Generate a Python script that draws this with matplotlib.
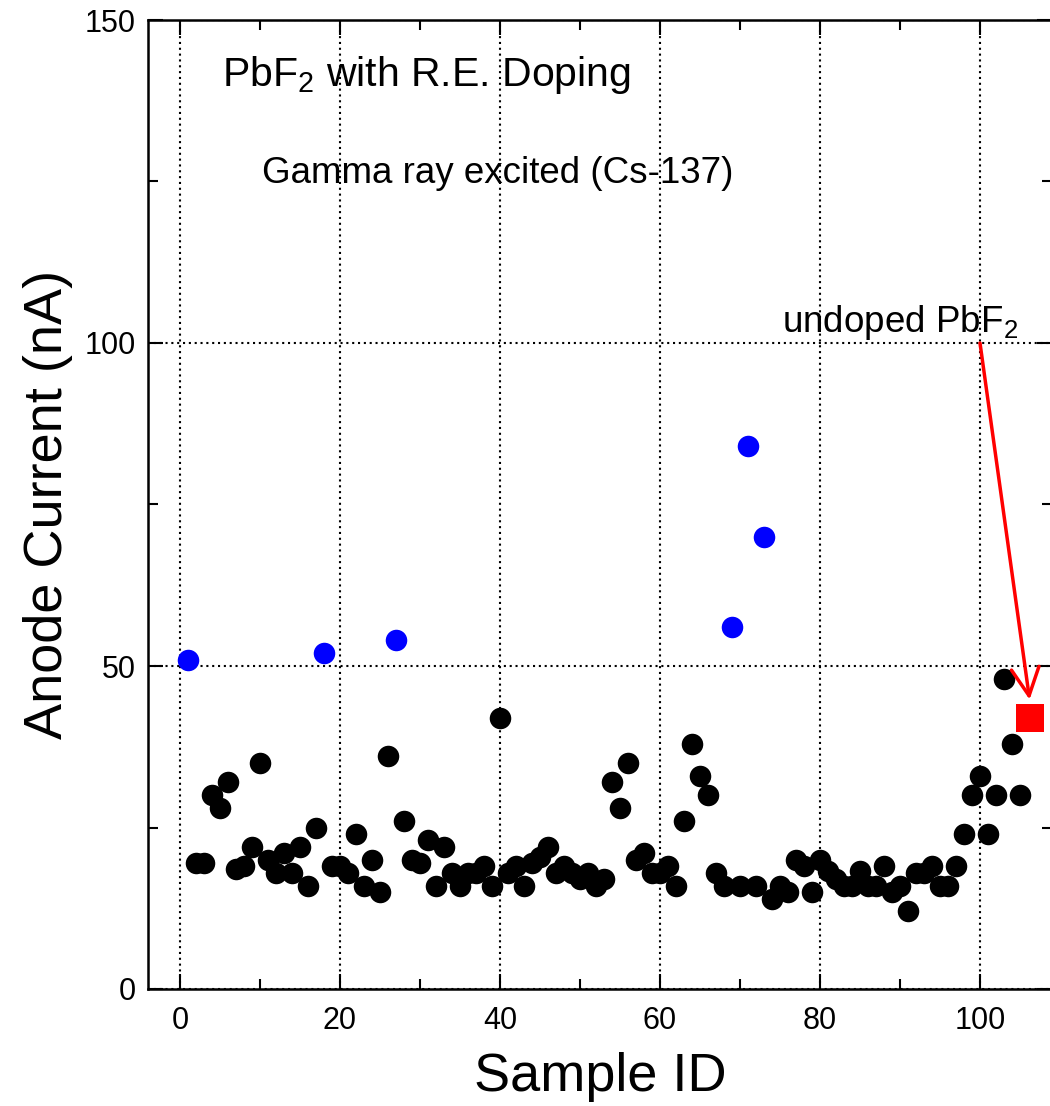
import matplotlib
matplotlib.use("Agg")
import matplotlib.pyplot as plt
from matplotlib.ticker import MultipleLocator

plt.rcParams['font.family'] = ['Liberation Sans', 'DejaVu Sans']
plt.rcParams['mathtext.default'] = 'regular'

# doped samples (black)
black_ids = [2, 3, 4, 5, 6, 7, 8, 9, 10, 11, 12, 13, 14, 15, 16, 17,
             19, 20, 21, 22, 23, 24, 25, 26,
             28, 29, 30, 31, 32, 33, 34, 35, 36, 37, 38, 39, 40, 41, 42, 43,
             44, 45, 46, 47, 48, 49, 50, 51, 52, 53, 54, 55, 56, 57, 58, 59,
             60, 61, 62, 63, 64, 65, 66, 67, 68, 70, 72,
             74, 75, 76, 77, 78, 79, 80, 81, 82, 83, 84, 85, 86, 87, 88, 89,
             90, 91, 92, 93, 94, 95, 96, 97, 98, 99, 100, 101, 102, 103, 104, 105]
black_vals = [19.5, 19.5, 30, 28, 32, 18.5, 19, 22, 35, 20, 18, 21, 18, 22, 16, 25,
              19, 19, 18, 24, 16, 20, 15, 36,
              26, 20, 19.5, 23, 16, 22, 18, 16, 18, 18, 19, 16, 42, 18, 19, 16,
              19.5, 20.5, 22, 18, 19, 18, 17, 18, 16, 17, 32, 28, 35, 20, 21, 18,
              18, 19, 16, 26, 38, 33, 30, 18, 16, 16, 16,
              14, 16, 15, 20, 19, 15, 20, 18.3, 17, 16, 16, 18.2, 16, 16, 19, 15,
              16, 12, 18, 18, 19, 16, 16, 19, 24, 30, 33, 24, 30, 48, 38, 30]

# best samples (blue)
blue_ids = [1, 18, 27, 69, 71, 73]
blue_vals = [51, 52, 54, 56, 84, 70]

# undoped reference
undoped_id = [106.2]
undoped_val = [42]

fig = plt.figure(figsize=(10.5, 11.06), dpi=100)
ax = fig.add_axes([148 / 1050, 117 / 1106, 904 / 1050, 969 / 1106])

ax.plot(black_ids, black_vals, linestyle='none', marker='o', ms=15.5,
        mew=0, color='black', zorder=3)
ax.plot(blue_ids, blue_vals, linestyle='none', marker='o', ms=15.5,
        mew=0, color='#0000ff', zorder=3)
ax.plot(undoped_id, undoped_val, linestyle='none', marker='s', ms=19.5,
        mew=0, color='#ff0000', zorder=3)

ax.annotate('', xy=(106.2, 44.8), xytext=(100, 100),
            arrowprops=dict(arrowstyle='->,head_length=0.4,head_width=0.2',
                            color='#ff0000', lw=2.5, mutation_scale=50,
                            shrinkA=0, shrinkB=0), zorder=4)

ax.text(5.25, 139.8, 'PbF$_2$ with R.E. Doping', fontsize=29.5, ha='left', va='baseline')
ax.text(10.25, 124.7, 'Gamma ray excited (Cs-137)', fontsize=26.5, ha='left', va='baseline')
ax.text(75.25, 101.7, 'undoped PbF$_2$', fontsize=26.5, ha='left', va='baseline')

ax.set_xlim(-4, 109)
ax.set_ylim(0, 150)
ax.xaxis.set_major_locator(MultipleLocator(20))
ax.xaxis.set_minor_locator(MultipleLocator(10))
ax.yaxis.set_major_locator(MultipleLocator(50))
ax.yaxis.set_minor_locator(MultipleLocator(25))

ax.tick_params(which='both', direction='in', top=True, right=True, width=1.5)
ax.tick_params(which='major', length=11, labelsize=22)
ax.tick_params(axis='x', which='major', pad=12)
ax.tick_params(axis='y', which='major', pad=9)
ax.tick_params(which='minor', length=7)

ax.grid(True, which='major', color='black', linestyle=(0, (1, 1.8)), linewidth=1.5)

for s in ax.spines.values():
    s.set_linewidth(1.8)

ax.set_xlabel('Sample ID', fontsize=39, labelpad=12)
ax.set_ylabel('Anode Current (nA)', fontsize=39, labelpad=8)

fig.savefig('out.png', dpi=100)
